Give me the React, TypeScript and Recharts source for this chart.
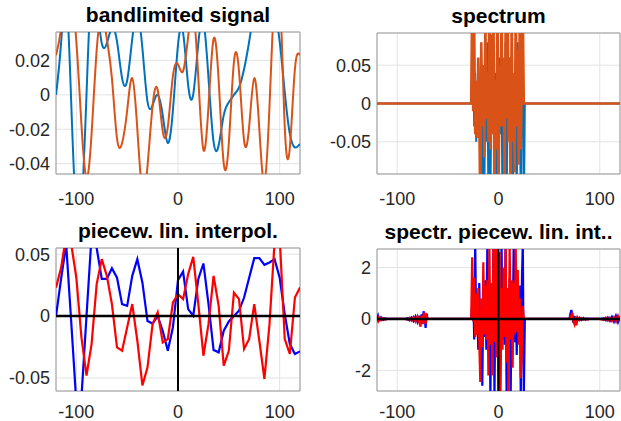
import React from 'react';
import { LineChart, Line, XAxis, YAxis, CartesianGrid, ReferenceLine, ReferenceArea } from 'recharts';

// sample grid of the signal (5 units apart)
const sampleX = [
  -120, -115, -110, -105, -100, -95, -90, -85, -80, -75, -70, -65, -60, -55, -50, -45, -40, -35, -30, -25, -20, -15, -10, -5,
  0, 5, 10, 15, 20, 25, 30, 35, 40, 45, 50, 55, 60, 65, 70, 75, 80, 85, 90, 95, 100, 105, 110, 115, 120,
];
const sigBlue = [
  0, 0.03, 0.058, -0.005, -0.07, -0.066, 0.0, 0.065, 0.055, 0.03, 0.03, 0.0387, 0.031, 0.0097, 0.0083, 0.0325, 0.046, 0.027, -0.004, -0.006, 0.0, -0.012, -0.028, -0.009,
  0.029, 0.036, 0.0056, 0.0003, 0.03, 0.0425, 0.0097, -0.0274, -0.0293, -0.0118, -0.0043, 0, 0.0043, 0.015, 0.031, 0.0468, 0.0468, 0.0414, 0.0433, 0.046, 0.031, 0.0016, -0.0226, -0.0306, -0.0285,
];
const sigRed = [
  0.023, 0.039, 0.065, 0.058, 0.031, -0.017, -0.048, -0.0226, 0.0258, 0.046, 0.0325, 0.0097, -0.0253, -0.028, -0.0091, 0.0097, -0.0199, -0.056, -0.0414, -0.0065, 0.003, -0.0212, -0.0185, 0.011,
  0.0177, 0.0137, 0.0339, 0.0478, 0.0097, -0.032, -0.0065, 0.0325, 0.0083, -0.04, -0.028, 0.019, 0.0137, -0.0266, -0.0185, 0.0097, -0.0199, -0.0508, -0.0065, 0.06, 0.064, -0.0185, -0.0306, 0.015, 0.023,
];

// spectrum of the signal
const specX = [
  -120, -27, -26, -25, -24, -23, -22, -21, -20, -19, -18, -17, -16, -15, -14, -13, -12, -11, -10, -9, -8, -7, -6, -5, -4, -3, -2, -1,
  0, 1, 2, 3, 4, 5, 6, 7, 8, 9, 10, 11, 12, 13, 14, 15, 16, 17, 18, 19, 20, 21, 22, 23, 24, 25, 26, 120,
];
const specBlue = [
  0, 0, 0.02, 0.06, -0.03, 0.04, -0.05, 0.02, -0.04, 0.03, -0.06, 0.02, -0.14, 0.05, -0.12, 0.03, -0.05, 0.08, -0.13, 0.04, -0.15, 0.06, -0.03, 0.07, -0.15, 0.04, -0.12, 0.05,
  -0.15, 0.06, -0.04, 0.03, -0.15, 0.05, -0.03, 0.08, -0.15, 0.02, -0.04, 0.06, -0.13, 0.05, -0.15, 0.03, -0.06, 0.05, -0.13, 0.08, -0.03, 0.06, -0.15, 0.07, 0.06, -0.15, 0, 0,
];
const specOrange = [
  0, 0, 0.13, -0.01, 0.1, -0.04, 0.03, -0.045, 0.06, -0.02, -0.13, 0.08, -0.03, 0.05, -0.07, 0.11, -0.02, 0.04, -0.05, 0.15, -0.06, 0.09, -0.04, 0.14, -0.13, 0.03, -0.06, 0.15,
  -0.14, 0.05, -0.03, 0.13, -0.03, 0.06, -0.13, 0.1, -0.02, 0.15, -0.05, 0.06, -0.14, 0.12, -0.05, 0.04, -0.09, 0.13, -0.03, 0.07, -0.08, 0.12, -0.06, 0.03, 0.12, 0, 0, 0,
];

// spectrum of the piecewise linear interpolation
const linSpecX = [
  -120, -119, -118, -116, -114, -112, -110, -108, -100, -92, -90, -88, -86, -84, -82, -80, -78, -77, -76, -75, -74, -73, -72, -71, -70, -60,
  -27, -26, -25, -24, -23, -22, -21, -20, -19, -18, -17, -16, -15, -14, -13, -12, -11, -10, -9, -8, -7, -6, -5, -4, -3, -2, -1,
  0, 1, 2, 3, 4, 5, 6, 7, 8, 9, 10, 11, 12, 13, 14, 15, 16, 17, 18, 19, 20, 21, 22, 23, 24, 25, 26, 27,
  60, 70, 71, 72, 73, 74, 75, 76, 77, 78, 80, 82, 84, 86, 88, 90, 100, 104, 106, 108, 110, 112, 114, 116, 118, 120,
];
const linSpecBlue = [
  0, 0.12, -0.05, 0.06, -0.04, 0.03, 0, 0, 0, 0, 0.03, -0.05, 0.06, -0.08, 0.1, -0.12, 0.12, -0.15, 0.18, -0.2, 0.3, 0.1, -0.35, 0.2, 0, 0,
  0, 0.5, 1.2, -0.8, 3.0, -0.6, 0.7, -1.2, 1.4, -0.9, 0.5, -2.6, 1.1, -0.7, 1.5, -1.2, 3.0, -0.9, 1.0, -3.0, 1.2, -0.8, 3.0, -3.0, 1.0, -1.4, 3.0,
  -3.0, 1.0, -1.2, 3.0, -0.8, 1.5, -1.0, 3.0, -3.0, 0.9, -1.1, 1.6, -3.0, 0.8, -1.0, 3.0, -0.9, 1.0, -1.4, 1.2, -0.8, 1.3, -3.0, 1.2, 3.0, -3.0, 0, 0,
  0, 0, 0.2, 0.35, 0.1, -0.15, 0.12, -0.1, 0.08, -0.06, 0.05, -0.04, 0.04, -0.03, 0.02, 0, 0, 0.03, -0.05, 0.06, -0.07, 0.08, -0.1, 0.12, -0.12, 0.1,
];
const linSpecRed = [
  0, -0.08, 0.06, -0.05, 0.04, -0.03, 0, 0, 0, 0, -0.03, 0.04, -0.06, 0.07, -0.1, 0.1, -0.15, -0.3, 0.12, -0.18, 0.15, 0.25, -0.2, 0.1, 0, 0,
  0, 2.4, -0.1, 1.6, -0.7, 1.0, -0.6, 1.2, -0.9, -2.45, 0.8, -1.1, 2.2, -0.6, 1.3, -0.8, 1.5, -2.2, 3.0, -1.0, 1.4, -2.2, 2.9, -0.9, 3.0, -1.5, 3.0,
  -2.0, 2.6, -3.0, 1.2, -1.2, 2.0, -0.7, 3.0, -1.7, 1.2, -2.9, 3.0, -0.8, 1.5, -1.9, 1.4, -0.6, 2.8, -0.5, 1.9, -1.0, 0.8, -2.3, -1.3, 0.5, 0, 0, 0,
  0, 0, 0.1, 0.15, 0.25, -0.1, -0.2, 0.08, -0.25, 0.06, -0.05, 0.04, -0.03, 0.02, -0.02, 0, 0, -0.04, 0.05, -0.06, 0.05, -0.08, 0.07, -0.1, 0.12, -0.08,
];

const sigRows = sampleX.map((x, i) => ({ x, a: sigBlue[i], b: sigRed[i] }));
const specRows = specX.map((x, i) => ({ x, a: specBlue[i], b: specOrange[i] }));
const linSpecRows = linSpecX.map((x, i) => ({ x, a: linSpecBlue[i], b: linSpecRed[i] }));

const FONT = '"Liberation Sans", Arial, Helvetica, sans-serif';
const tickStyle = { fontSize: 18, fill: '#262626', fontFamily: FONT };
const X_DOMAIN: [number, number] = [-120, 120];

type PanelProps = {
  left: number;
  top: number;
  width: number;
  height: number;
  plotTop: number;
  yAxisWidth: number;
  xAxisHeight: number;
  rightGap: number;
  xGap: number;
  title: string;
  rows: any[];
  yDomain: [number, number];
  yTicks: number[];
  colors: [string, string];
  curve: 'natural' | 'linear';
  widths: [number, number];
  zeroLines?: boolean;
};

function Panel(p: PanelProps) {
  const plotW = p.width - p.yAxisWidth - p.rightGap;
  return (
    <div style={{ position: 'absolute', left: p.left, top: p.top, width: p.width, height: p.height }}>
      <div
        style={{
          position: 'absolute',
          left: p.yAxisWidth,
          width: plotW,
          top: p.plotTop - 28,
          textAlign: 'center',
          fontFamily: FONT,
          fontWeight: 'bold',
          fontSize: 21,
          lineHeight: '21px',
          color: '#000',
          whiteSpace: 'nowrap',
        }}
      >
        {p.title}
      </div>
      <LineChart
        width={p.width}
        height={p.height}
        data={p.rows}
        margin={{ top: p.plotTop, right: p.rightGap, bottom: 0, left: 0 }}
      >
        <CartesianGrid stroke="#e3e3e3" strokeWidth={1} />
        <XAxis
          dataKey="x"
          type="number"
          domain={X_DOMAIN}
          ticks={[-100, 0, 100]}
          allowDataOverflow
          height={p.xAxisHeight}
          tickSize={0}
          tickMargin={p.xGap}
          tickLine={false}
          axisLine={false}
          tick={tickStyle}
        />
        <YAxis
          type="number"
          domain={p.yDomain}
          ticks={p.yTicks}
          allowDataOverflow
          width={p.yAxisWidth}
          tickSize={0}
          tickMargin={6}
          tickLine={false}
          axisLine={false}
          tick={tickStyle}
        />
        <Line type={p.curve} dataKey="a" stroke={p.colors[0]} strokeWidth={p.widths[0]} dot={false} isAnimationActive={false} />
        <Line type={p.curve} dataKey="b" stroke={p.colors[1]} strokeWidth={p.widths[1]} dot={false} isAnimationActive={false} />
        {p.zeroLines && <ReferenceLine y={0} stroke="#000" strokeWidth={2.5} />}
        {p.zeroLines && <ReferenceLine x={0} stroke="#000" strokeWidth={2} />}
        <ReferenceArea
          x1={X_DOMAIN[0]}
          x2={X_DOMAIN[1]}
          y1={p.yDomain[0]}
          y2={p.yDomain[1]}
          fill="none"
          fillOpacity={0}
          stroke="#9a9a9a"
          strokeWidth={1}
        />
      </LineChart>
    </div>
  );
}

export default function App() {
  return (
    <div style={{ position: 'absolute', left: 0, top: 0, width: 621, height: 421, background: '#fff', overflow: 'hidden' }}>
      <Panel
        left={0}
        top={0}
        width={310}
        height={210}
        plotTop={32}
        yAxisWidth={56}
        xAxisHeight={36}
        rightGap={10}
        xGap={18}
        title="bandlimited signal"
        rows={sigRows}
        yDomain={[-0.046, 0.0365]}
        yTicks={[-0.04, -0.02, 0, 0.02]}
        colors={['#0072BD', '#D95319']}
        curve="natural"
        widths={[2, 2]}
      />
      <Panel
        left={310}
        top={0}
        width={311}
        height={210}
        plotTop={33}
        yAxisWidth={67}
        xAxisHeight={36}
        rightGap={1}
        xGap={18}
        title="spectrum"
        rows={specRows}
        yDomain={[-0.092, 0.092]}
        yTicks={[-0.05, 0, 0.05]}
        colors={['#0072BD', '#D95319']}
        curve="linear"
        widths={[2, 2.6]}
      />
      <Panel
        left={0}
        top={210}
        width={310}
        height={211}
        plotTop={38}
        yAxisWidth={56}
        xAxisHeight={30}
        rightGap={10}
        xGap={14}
        title="piecew. lin. interpol."
        rows={sigRows}
        yDomain={[-0.0605, 0.055]}
        yTicks={[-0.05, 0, 0.05]}
        colors={['#0000FF', '#FF0000']}
        curve="linear"
        widths={[2.2, 2.2]}
        zeroLines
      />
      <Panel
        left={310}
        top={210}
        width={311}
        height={211}
        plotTop={39}
        yAxisWidth={67}
        xAxisHeight={30}
        rightGap={1}
        xGap={14}
        title="spectr. piecew. lin. int.."
        rows={linSpecRows}
        yDomain={[-2.8, 2.72]}
        yTicks={[-2, 0, 2]}
        colors={['#0000FF', '#FF0000']}
        curve="linear"
        widths={[2.2, 2.2]}
        zeroLines
      />
    </div>
  );
}
